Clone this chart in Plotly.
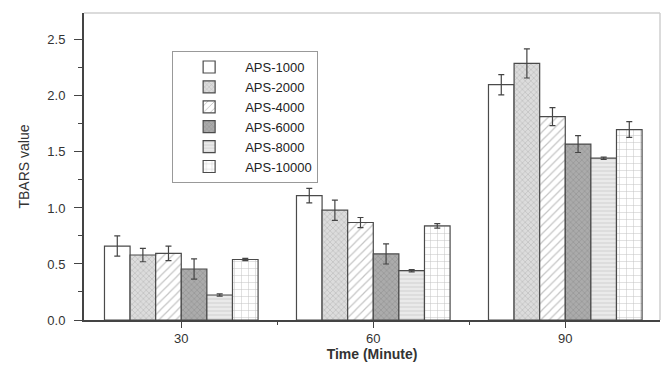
import plotly.graph_objects as go

times = [30, 60, 90]
series_names = ["APS-1000", "APS-2000", "APS-4000", "APS-6000", "APS-8000", "APS-10000"]
aps_1000 = [0.66, 1.11, 2.10]
aps_2000 = [0.58, 0.98, 2.29]
aps_4000 = [0.595, 0.87, 1.815]
aps_6000 = [0.455, 0.59, 1.57]
aps_8000 = [0.223, 0.44, 1.444]
aps_10000 = [0.54, 0.84, 1.70]
err_1000 = [0.09, 0.065, 0.09]
err_2000 = [0.06, 0.09, 0.13]
err_4000 = [0.065, 0.045, 0.08]
err_6000 = [0.09, 0.09, 0.075]
err_8000 = [0.01, 0.01, 0.01]
err_10000 = [0.01, 0.02, 0.07]

values = [aps_1000, aps_2000, aps_4000, aps_6000, aps_8000, aps_10000]
errors = [err_1000, err_2000, err_4000, err_6000, err_8000, err_10000]
styles = [
    dict(shape="", bgcolor="white", fgcolor="white", size=6, solidity=0.2),
    dict(shape="x", bgcolor="#dcdcdc", fgcolor="#8c8c8c", size=4, solidity=0.25),
    dict(shape="/", bgcolor="white", fgcolor="#8a8a8a", size=6, solidity=0.2),
    dict(shape="x", bgcolor="#ababab", fgcolor="#707070", size=4, solidity=0.25),
    dict(shape="-", bgcolor="#eaeaea", fgcolor="#b8b8b8", size=4, solidity=0.25),
    dict(shape="+", bgcolor="white", fgcolor="#8f8f8f", size=7, solidity=0.15),
]

font = "Arial, Liberation Sans, sans-serif"
fig = go.Figure()
for name, v, e, st in zip(series_names, values, errors, styles):
    fig.add_trace(go.Bar(
        x=times, y=v, name=name,
        marker=dict(color=st["bgcolor"], line=dict(color="#4a4a4a", width=1.2),
                    pattern=st),
        error_y=dict(type="data", array=e, visible=True, color="#444444",
                     thickness=1.2, width=3),
    ))

# the page body adds an 8px offset, so the figure is 8px smaller than the window
fig.update_layout(
    width=662, height=358,
    margin=dict(l=76, r=10, t=5, b=46),
    paper_bgcolor="white", plot_bgcolor="white",
    barmode="group", bargap=0.2, bargroupgap=0,
    font=dict(family=font, color="#333333", size=12),
    showlegend=True,
    legend=dict(x=0.153, y=0.876, xanchor="left", yanchor="top",
                bgcolor="white", bordercolor="#999999", borderwidth=1,
                font=dict(size=13, color="#222222"), tracegroupgap=0,
                itemwidth=62),
    xaxis=dict(range=[14.8, 104.8], tickvals=times, ticktext=[str(t) for t in times],
               automargin=False,
               ticks="outside", ticklen=6, tickcolor="#444444", tickwidth=1,
               showline=True, linecolor="#444444", linewidth=1.5, mirror=False,
               showgrid=False, zeroline=False,
               minor=dict(tickvals=[45, 75], ticks="outside", ticklen=3, tickcolor="#444444"),
               title=dict(text="<b>Time (Minute)</b>", font=dict(size=14, color="#333333"), standoff=2),
               tickfont=dict(size=13, color="#333333")),
    yaxis=dict(range=[0, 2.74], tickvals=[0, 0.5, 1.0, 1.5, 2.0, 2.5],
               ticktext=["0.0", "0.5", "1.0", "1.5", "2.0", "2.5"],
               automargin=False,
               ticks="outside", ticklen=8, tickcolor="#444444", tickwidth=1.2,
               showline=True, linecolor="#444444", linewidth=2,
               showgrid=False, zeroline=False, ticklabelstandoff=6,
               minor=dict(tickvals=[0.25, 0.75, 1.25, 1.75, 2.25], ticks="outside", ticklen=4, tickcolor="#444444"),
               title=dict(text="TBARS value", font=dict(size=14, color="#333333"), standoff=14),
               tickfont=dict(size=13, color="#333333")),
)
# light frame on top and right
fig.add_shape(type="line", xref="paper", yref="paper", x0=0, y0=1, x1=1, y1=1,
              line=dict(color="#cfcfcf", width=1.5))
fig.add_shape(type="line", xref="paper", yref="paper", x0=1, y0=0, x1=1, y1=1,
              line=dict(color="#cfcfcf", width=1.5))
fig.write_html("out.html")
